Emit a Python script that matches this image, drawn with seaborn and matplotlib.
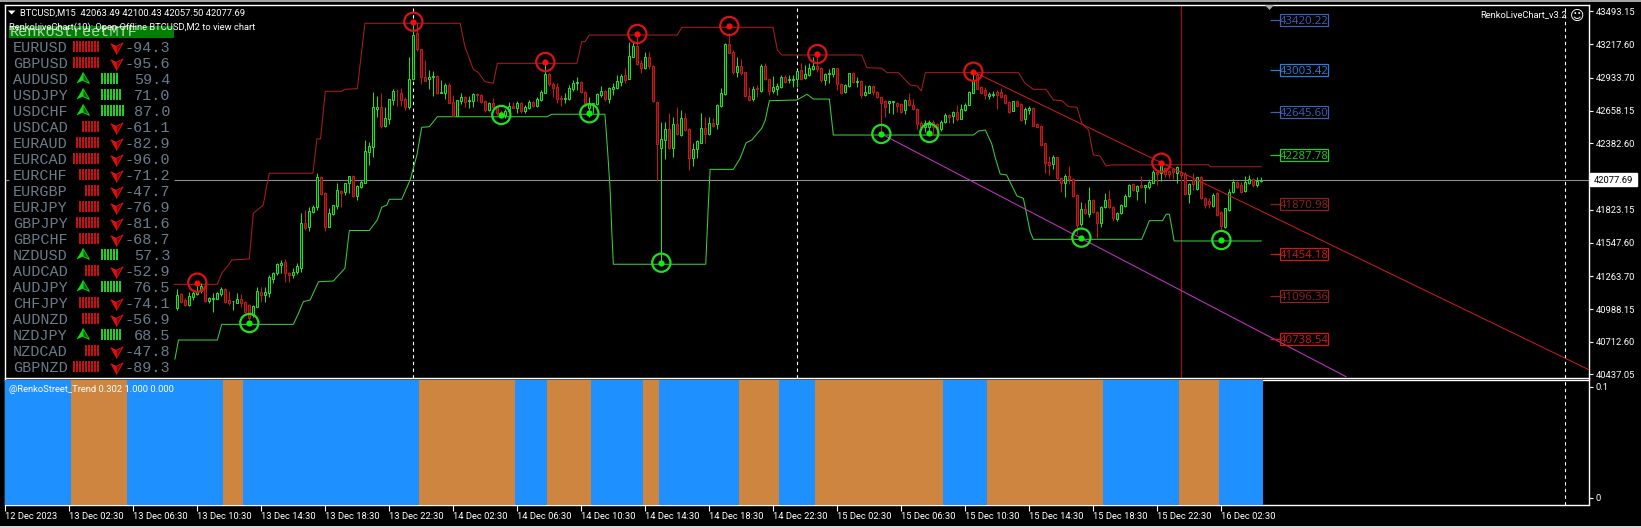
import matplotlib
matplotlib.use("Agg")
import matplotlib.pyplot as plt
from matplotlib.patches import Rectangle, Polygon
import numpy as np
import seaborn as sns

FIRST_BAR = 43
opens = [
 40994,41115,41064,41022,41087,41115,41143,41182,41053,41073,
 41076,41115,41157,41064,41053,41042,41070,41047,41022,40938,
 41008,41129,41109,41126,41244,41289,41359,41381,41294,41275,
 41300,41333,41710,41676,41808,41844,42097,41968,41681,41788,
 41855,41985,41973,42046,42108,41940,42018,42052,42313,42355,
 42675,42692,42529,42591,42748,42827,42810,42754,42686,42922,
 43309,43175,42939,42922,42944,42950,42810,42810,42877,42731,
 42613,42742,42770,42739,42739,42796,42790,42739,42664,42725,
 42686,42650,42622,42655,42697,42683,42720,42655,42683,42731,
 42697,42748,42810,42967,42883,42855,42762,42754,42756,42843,
 42888,42902,42818,42678,42714,42714,42790,42821,42754,42838,
 42849,42899,42956,42928,43113,43203,43057,43015,43107,43034,
 42734,42341,42411,42501,42341,42546,42453,42593,42501,42257,
 42332,42389,42509,42462,42551,42546,42697,42798,43219,43155,
 42986,43034,42986,42782,42754,42846,42826,43034,42922,42826,
 42838,42855,42939,42916,42916,42928,43001,42933,42958,43012,
 43034,43020,42916,42966,42964,43014,42882,42815,42865,42978,
 42902,42910,42790,42809,42865,42818,42770,42736,42725,42728,
 42725,42714,42663,42748,42705,42675,42557,42517,42523,42565,
 42545,42501,42559,42621,42613,42649,42590,42663,42705,42809,
 42958,42854,42832,42784,42792,42818,42815,42790,42733,42658,
 42736,42714,42585,42663,42680,42545,42531,42383,42228,42209,
 42265,42088,42051,42110,42079,41948,41703,41827,41788,41905,
 41807,41715,41843,41911,41849,41745,41793,41858,41939,42040,
 41984,42029,42018,42018,42051,42144,42130,42172,42147,42164,
 42130,42144,42124,41956,42074,41995,42102,41919,41900,41855,
 41962,41807,41681,41821,41970,42060,42032,41984,42052,42080,
 42032,42063.49]
highs = [
 41154,41126,41078,41134,41143,41191,41205,41191,41092,41120,
 41134,41177,41163,41143,41059,41120,41115,41053,41031,41022,
 41171,41171,41171,41272,41300,41373,41401,41407,41303,41331,
 41373,41797,41822,41850,41864,42131,42108,41976,41836,41861,
 42046,41990,42052,42108,42119,42032,42074,42411,42397,42818,
 42782,42810,42692,42759,42838,42844,42849,42771,43107,43394,
 43408,43175,43085,43001,42995,42956,42916,42888,42888,42790,
 42748,42810,42782,42782,42804,42810,42798,42748,42734,42762,
 42697,42664,42669,42734,42734,42742,42731,42706,42748,42742,
 42776,42832,43057,42972,42902,42888,42790,42804,42874,42916,
 42939,42908,42826,42770,42725,42804,42866,42832,42860,42888,
 42958,42967,43015,43239,43239,43309,43085,43155,43155,43040,
 42739,42565,42565,42636,42608,42692,42664,42636,42509,42383,
 42411,42636,42602,42608,42593,42714,42846,43231,43309,43169,
 43113,43090,42995,42855,42866,42874,43051,43057,42928,42950,
 42888,42961,42958,42958,42958,43001,43057,43043,43057,43113,
 43127,43023,42978,43006,43020,43020,42888,42882,42978,42986,
 42938,42916,42874,42874,42874,42826,42776,42748,42742,42742,
 42733,42725,42753,42804,42753,42680,42573,42579,42579,42579,
 42557,42579,42641,42630,42658,42705,42714,42725,42826,42978,
 42986,42865,42854,42818,42826,42832,42846,42798,42742,42742,
 42748,42719,42686,42697,42691,42551,42540,42388,42276,42282,
 42270,42102,42124,42192,42088,41956,41891,41883,42012,41911,
 41813,41855,41962,41990,41855,41807,41872,41956,42040,42046,
 42032,42108,42032,42079,42158,42158,42220,42180,42158,42172,
 42192,42158,42144,42051,42130,42102,42108,41928,41919,41962,
 41976,41813,41841,41995,42079,42068,42060,42108,42116,42088,
 42096,42100.43]
lows = [
 40980,41042,41014,41014,41064,41106,41126,41047,41036,40966,
 41070,41098,41042,41022,40980,41036,41008,40952,40896,40924,
 41003,41050,41047,41092,41205,41275,41289,41219,41219,41247,
 41283,41300,41653,41648,41799,41822,41945,41648,41676,41782,
 41833,41850,41945,41968,41934,41906,42004,42046,42201,42265,
 42602,42512,42524,42546,42703,42698,42698,42664,42675,42917,
 43163,42883,42905,42838,42782,42798,42804,42754,42720,42613,
 42613,42714,42692,42678,42686,42742,42720,42650,42658,42678,
 42622,42593,42593,42636,42678,42636,42636,42636,42669,42686,
 42686,42742,42804,42866,42770,42725,42697,42725,42748,42826,
 42832,42810,42692,42608,42636,42706,42776,42742,42725,42790,
 42838,42866,42888,42922,43107,43043,42972,43006,43006,42734,
 42069,41372,42248,42332,42265,42453,42445,42490,42158,42192,
 42257,42383,42383,42453,42523,42501,42692,42790,43141,42967,
 42944,42958,42770,42742,42742,42770,42818,42916,42790,42810,
 42790,42846,42894,42888,42855,42855,42916,42928,42950,43001,
 42986,42899,42874,42888,42938,42832,42798,42804,42854,42888,
 42860,42762,42781,42804,42790,42762,42467,42607,42635,42630,
 42649,42641,42630,42697,42663,42506,42501,42481,42467,42453,
 42467,42489,42551,42557,42557,42573,42585,42652,42703,42804,
 42837,42798,42753,42753,42770,42675,42762,42714,42635,42652,
 42686,42573,42545,42630,42529,42517,42360,42130,42116,42164,
 42074,41976,41928,42040,41933,41619,41686,41788,41765,41799,
 41583,41681,41835,41835,41731,41731,41788,41849,41933,41984,
 41905,42004,41883,41995,42046,42032,42068,42102,42088,42079,
 42051,42102,41948,41883,41990,41990,41911,41835,41835,41849,
 41771,41653,41667,41815,41962,42004,41967,41976,42040,42012,
 42018,42057.50]
closes = [
 41106,41050,41022,41098,41120,41143,41182,41059,41081,41078,
 41120,41154,41050,41036,41059,41070,41036,40966,40910,41014,
 41140,41106,41132,41261,41289,41367,41379,41289,41275,41300,
 41351,41712,41667,41813,41844,42097,41957,41681,41794,41861,
 41990,41962,42046,42108,41940,42024,42058,42316,42361,42686,
 42686,42529,42594,42754,42824,42822,42748,42686,42922,43293,
 43175,42939,42911,42944,42950,42804,42818,42877,42725,42613,
 42748,42770,42734,42748,42798,42790,42734,42664,42725,42692,
 42636,42608,42658,42697,42683,42720,42655,42686,42731,42697,
 42754,42812,42967,42883,42846,42759,42754,42762,42849,42894,
 42902,42818,42720,42720,42720,42798,42821,42754,42846,42855,
 42905,42950,42916,43118,43203,43051,43015,43107,43034,42742,
 42377,42417,42501,42341,42546,42462,42593,42495,42257,42335,
 42405,42509,42462,42551,42532,42703,42810,43219,43146,42986,
 43034,42978,42782,42748,42838,42838,43034,42922,42826,42855,
 42866,42939,42902,42922,42928,42995,42928,42967,43015,43034,
 43012,42916,42964,42972,43014,42882,42809,42874,42972,42899,
 42910,42790,42818,42865,42818,42770,42719,42686,42736,42736,
 42697,42649,42748,42705,42669,42545,42517,42551,42559,42523,
 42509,42565,42621,42607,42649,42585,42669,42708,42818,42916,
 42843,42804,42790,42795,42798,42790,42776,42725,42649,42736,
 42697,42579,42669,42680,42531,42523,42369,42214,42203,42270,
 42088,42046,42110,42079,41939,41695,41827,41793,41905,41807,
 41709,41849,41905,41843,41751,41799,41863,41939,42032,41990,
 42023,42018,42029,42060,42144,42124,42214,42124,42124,42144,
 42180,42113,41956,42040,42040,42096,41919,41863,41872,41948,
 41779,41686,41835,41976,42060,42012,41976,42060,42080,42032,
 42068,42077.69]
last_close = 42077.69

upper_bars = [42.2,53,54.1,55.8,56.6,61,62,64.5,65.3,66,76.9,77.9,78.8,80,84.1,84.9,88,89.9,113.7,114.9,117,118.3,119.9,122,123,142.9,144.1,144.9,146,168,169.1,191.9,193,194.1,214.1,215.4,219.1,220.4,223.3,226.2,228,229,230,253.3,254.9,257,260.2,262,264.1,265.8,267.9,269.1,270.8,272,273.7,275.2,276.6,300.8,301.2,314]
upper_prices = [41196,41196,41289,41359,41401,41409,41794,41864,42018,42131,42131,42420,42420,42821,42821,42838,42843,43394,43394,43197,43006,42978,42902,42889,43057,43057,43239,43239,43295,43295,43360,43360,43169,43127,43127,43020,43015,42978,42978,42874,42866,42824,42978,42978,42889,42838,42838,42748,42742,42692,42687,42552,42495,42285,42276,42192,42201,42203,42186,42186]
lower_bars = [42.4,43.3,53,54.1,72,73.3,74.5,76.2,78.3,82,84.9,86,91,93,94.1,95.4,96,99.1,101.2,102.9,104.1,106,108,135.4,136.6,149.9,150.5,151.2,151.6,152,175.1,175.8,176.2,182,183.7,185.2,186.6,189.1,190,191,197.9,200.4,202,206,207,242,243.3,245,246.6,247.4,248.7,250.3,252.9,254.5,256.2,257,284.1,286,289.3,290.2,291,292.2,314]
lower_prices = [40565,40727,40727,40859,40859,40952,41050,41064,41218,41224,41331,41649,41649,41738,41845,41864,41912,41912,42074,42285,42518,42523,42607,42607,42628,42628,42355,41990,41653,41365,41365,41906,42164,42164,42257,42388,42411,42510,42580,42742,42748,42796,42756,42756,42453,42453,42487,42495,42378,42271,42125,42117,41940,41920,41639,41575,41575,41732,41732,41786,41786,41561,41561]

swing_high_bars = [48,102,135,158,181,203,242,289]
swing_high_prices = [41210,43407,43068,43304,43371,43135,42986,42220]
swing_low_bars = [61,124,146,164,219,231,269,304]
swing_low_prices = [40870,42622,42636,41378,42462,42470,41589,41569]

red_trend_bars = [242,396]
red_trend_prices = [42986,40475]
magenta_trend_bars = [219,335.2]
magenta_trend_prices = [42462,40418]

white_dash_bars = [102,198,390]
red_vline_bar = 294

level_prices = [43420.22,43003.42,42645.60,42287.78,41870.98,41454.18,41096.36,40738.54]
level_labels = ["43420.22","43003.42","42645.60","42287.78","41870.98","41454.18","41096.36","40738.54"]
level_colors = ["#3e5fb4","#2e7fd4","#3e5fb4","#26c826","#8c2424","#cc1a1a","#8c2424","#cc1a1a"]

price_ticks = [43493.15,43217.60,42933.70,42658.15,42382.60,41823.15,41547.60,41263.70,40988.15,40712.60,40437.05]

trend_edges = [0,17,31,55,60,104,128,136,147,160,164,184,194,203,235,246,275,294,304,315]
trend_state = ["up","dn","up","dn","up","dn","up","dn","up","dn","up","dn","up","dn","up","dn","up","dn","up"]

time_ticks = [0,16,32,48,64,80,96,112,128,144,160,176,192,208,224,240,256,272,288,304]
time_labels = ["12 Dec 2023","13 Dec 02:30","13 Dec 06:30","13 Dec 10:30","13 Dec 14:30","13 Dec 18:30","13 Dec 22:30",
               "14 Dec 02:30","14 Dec 06:30","14 Dec 10:30","14 Dec 14:30","14 Dec 18:30","14 Dec 22:30",
               "15 Dec 02:30","15 Dec 06:30","15 Dec 10:30","15 Dec 14:30","15 Dec 18:30","15 Dec 22:30","16 Dec 02:30"]

pairs = ["EURUSD","GBPUSD","AUDUSD","USDJPY","USDCHF","USDCAD","EURAUD","EURCAD","EURCHF","EURGBP","EURJPY",
         "GBPJPY","GBPCHF","NZDUSD","AUDCAD","AUDJPY","CHFJPY","AUDNZD","NZDJPY","NZDCAD","GBPNZD"]
pair_values = [-94.3,-95.6,59.4,71.0,87.0,-61.1,-82.9,-96.0,-71.2,-47.7,-76.9,-81.6,-68.7,57.3,-52.9,76.5,-74.1,-56.9,68.5,-47.8,-89.3]
pair_stripes = [9,9,6,7,8,6,8,9,7,5,7,8,7,6,5,7,7,6,7,5,9]

GREEN, RED = "#26dc26", "#c21a1a"
BLUE_T, BROWN_T = "#1e90ff", "#cd853f"
UI = "Roboto"
MONO = "Liberation Mono"
UI_SIZE = 6.75

sns.set_theme(style="dark", rc={"axes.facecolor": "black", "figure.facecolor": "black",
                                "savefig.facecolor": "black", "axes.edgecolor": "white",
                                "text.color": "white", "xtick.color": "white", "ytick.color": "white"})
plt.rcParams["font.family"] = [UI, "DejaVu Sans"]

W, H = 1641, 528
fig = plt.figure(figsize=(W/100, H/100), dpi=100)
def box(l, t, r, b):
    return [l/W, 1-b/H, (r-l)/W, (b-t)/H]
ax = fig.add_axes(box(4.5, 4.5, 1589, 377.5))
ax2 = fig.add_axes(box(4.5, 379.5, 1589, 504.5))
ov = fig.add_axes([0, 0, 1, 1], zorder=10)
ov.set_xlim(0, W); ov.set_ylim(H, 0); ov.axis("off"); ov.patch.set_alpha(0)

o, h, l, c = map(np.array, (opens, highs, lows, closes))
bars = np.arange(FIRST_BAR, FIRST_BAR+len(o))
up = c >= o

ax.hlines(last_close, 42.2, 396, color="#8c8c8c", lw=0.8, zorder=1)
ax.hlines(last_close, -1, 0.8, color="#8c8c8c", lw=0.8, zorder=1)
ax.axvline(red_vline_bar, color="#a01010", lw=0.85, zorder=1)
for b in white_dash_bars:
    ax.axvline(b, color="white", lw=0.8, ls=(0, (3, 3)), zorder=1)

sns.lineplot(x=upper_bars, y=upper_prices, sort=False, estimator=None, errorbar=None, color="#a81e1e", lw=0.75, ax=ax, zorder=2)
sns.lineplot(x=lower_bars, y=lower_prices, sort=False, estimator=None, errorbar=None, color="#3ccc3c", lw=0.75, ax=ax, zorder=2)

for mask, col, fill in ((up, GREEN, "#073807"), (~up, RED, "#6e0c0c")):
    ax.vlines(bars[mask], l[mask], h[mask], color=col, lw=0.75, zorder=3)
    ax.bar(bars[mask], np.maximum(np.abs(c-o)[mask], 4), bottom=np.minimum(o, c)[mask], width=0.5,
           facecolor=fill, edgecolor=col, lw=0.72, zorder=4)

sns.lineplot(x=red_trend_bars, y=red_trend_prices, sort=False, estimator=None, errorbar=None, color="#c81c1c", lw=0.75, ax=ax, zorder=5)
sns.lineplot(x=magenta_trend_bars, y=magenta_trend_prices, sort=False, estimator=None, errorbar=None, color="#c434c4", lw=0.75, ax=ax, zorder=5)

ax.scatter(swing_high_bars, swing_high_prices, s=172, facecolors="none", edgecolors="#dc1212", linewidths=1.6, zorder=6)
ax.scatter(swing_low_bars, swing_low_prices, s=172, facecolors="none", edgecolors="#1fe01f", linewidths=1.6, zorder=6)
sns.scatterplot(x=swing_high_bars, y=swing_high_prices, s=20, marker="o", color="#ff0a0a", linewidth=0, ax=ax, zorder=7)
sns.scatterplot(x=swing_low_bars, y=swing_low_prices, s=20, marker="o", color="#0af00a", linewidth=0, ax=ax, zorder=7)

px_price = 8.42
for p, t, col in zip(level_prices, level_labels, level_colors):
    ax.hlines(p, 316.2, 318.7, color=col, lw=0.9, zorder=5)
    ax.add_patch(Rectangle((318.7, p-6*px_price), 12, 12*px_price, facecolor="none", edgecolor=col, lw=0.9, zorder=8))
    ax.text(324.7, p, t, color=col, ha="center", va="center_baseline", fontsize=8.2, fontfamily="Open Sans", zorder=9)

ax.set_xlim(-0.2, 395.9)
ax.set_ylim(40411.5, 43552)
ax.set_xticks([])
ax.yaxis.tick_right()
ax.set_yticks(price_ticks)
ax.set_yticklabels([f"{t:.2f}" for t in price_ticks], fontsize=UI_SIZE)
ax.tick_params(axis="y", length=3, width=0.8, pad=2, color="white", labelcolor="white", right=True)
ax.grid(False)
ax.set_xlabel(""); ax.set_ylabel("")

yt = ax.get_yaxis_transform()
ax.add_patch(Rectangle((1+1/1584.5, last_close-6.5*px_price), 47/1584.5, 13*px_price, transform=yt,
                       facecolor="white", edgecolor="white", clip_on=False, zorder=20))
ax.text(1+5/1584.5, last_close, f"{last_close:.2f}", transform=yt, color="black", fontsize=UI_SIZE,
        va="center_baseline", ha="left", clip_on=False, zorder=21)

for left, right, state in zip(trend_edges[:-1], trend_edges[1:], trend_state):
    ax2.bar(left-0.5, 0.2, width=right-left, bottom=-0.05, align="edge", lw=0,
            color=BLUE_T if state == "up" else BROWN_T, zorder=3)
ax2.axvline(white_dash_bars[2], color="white", lw=0.8, ls=(0, (3, 3)), zorder=1)
ax2.set_xlim(-0.2, 395.9)
ax2.set_ylim(-0.0059, 0.1063)
ax2.yaxis.tick_right()
ax2.set_yticks([0, 0.1])
ax2.set_yticklabels(["0", "0.1"], fontsize=UI_SIZE)
ax2.tick_params(axis="y", length=3, width=0.8, pad=2, color="white", labelcolor="white", right=True)
ax2.set_xticks(time_ticks)
ax2.set_xticklabels(time_labels, fontsize=UI_SIZE, ha="left")
ax2.tick_params(axis="x", length=4, width=0.8, pad=1.5, color="white", labelcolor="white", bottom=True)
ax2.grid(False)

for a in (ax, ax2):
    for s in a.spines.values():
        s.set_color("white"); s.set_linewidth(1.0); s.set_visible(True)

# window chrome
ov.add_patch(Rectangle((0, 0), W, 2.2, facecolor="#a4a4a4", lw=0))
ov.add_patch(Rectangle((0, 525.5), W, 2.5, facecolor="#d8d8d8", lw=0))

# headers
ov.add_patch(Polygon([(8, 10.5), (15.5, 10.5), (11.7, 14.5)], closed=True, facecolor="white", lw=0))
ov.text(20, 12.5, "BTCUSD,M15  42063.49 42100.43 42057.50 42077.69", color="white", fontsize=UI_SIZE, va="center_baseline")
ov.add_patch(Rectangle((9, 25.5), 165, 12.5, facecolor="#008000", lw=0))
ov.text(10, 31, "RenkoStreetMTF", color="#b6d2b6", fontsize=11, fontfamily=MONO, va="center_baseline")
ov.text(9, 26, "RenkoLiveChart(10): Open-Offline BTCUSD,M2 to view chart", color="white", fontsize=UI_SIZE, va="center_baseline")
ov.text(1480, 14, "RenkoLiveChart_v3.2", color="white", fontsize=UI_SIZE, va="center_baseline")
ov.text(1577, 14.3, "\u263a", color="white", fontsize=10, ha="center", va="center_baseline", fontfamily="DejaVu Sans")
ov.text(9, 388.7, "@RenkoStreet_Trend 0.302 1.000 0.000", color="white", fontsize=UI_SIZE, va="center_baseline")
ov.add_patch(Polygon([(1265, 5), (1274, 5), (1269.5, 10)], closed=True, facecolor="#a8a8a8", lw=0))

# currency strength table
for k, (name, val, n) in enumerate(zip(pairs, pair_values, pair_stripes)):
    row = 46 + 16*k
    ov.text(13, row, name, color="#6c7c8c", fontsize=10.9, fontfamily=MONO, va="center_baseline")
    ov.text(170.5, row, f"{val:.1f}", color="#6c7c8c", fontsize=10.9, fontfamily=MONO, ha="right", va="center_baseline")
    if val < 0:
        xs = 99 - 3*np.arange(n) - 1.5
        ov.bar(xs, 11, bottom=row-5.5, width=2, color="#c41010", lw=0)
        cx, cy = 116.5, row+2.5
        ov.add_patch(Polygon([(cx, cy+6), (cx-6.5, cy-5.5), (cx, cy-2.5)], closed=True, facecolor="#e01010", lw=0))
        ov.add_patch(Polygon([(cx, cy+6), (cx+6.5, cy-5.5), (cx, cy-2.5)], closed=True, facecolor="#7a0a0a", edgecolor="#e01010", lw=0.6))
    else:
        xs = 100 + 3*np.arange(n) + 1.5
        ov.bar(xs, 11, bottom=row-5.5, width=2, color="#1fd01f", lw=0)
        cx, cy = 83, row
        ov.add_patch(Polygon([(cx, cy-5.5), (cx-6.5, cy+5.5), (cx, cy+2.5)], closed=True, facecolor="#12dc12", lw=0))
        ov.add_patch(Polygon([(cx, cy-5.5), (cx+6.5, cy+5.5), (cx, cy+2.5)], closed=True, facecolor="#0a5a0a", edgecolor="#12dc12", lw=0.6))

fig.savefig("out.png", dpi=100)
